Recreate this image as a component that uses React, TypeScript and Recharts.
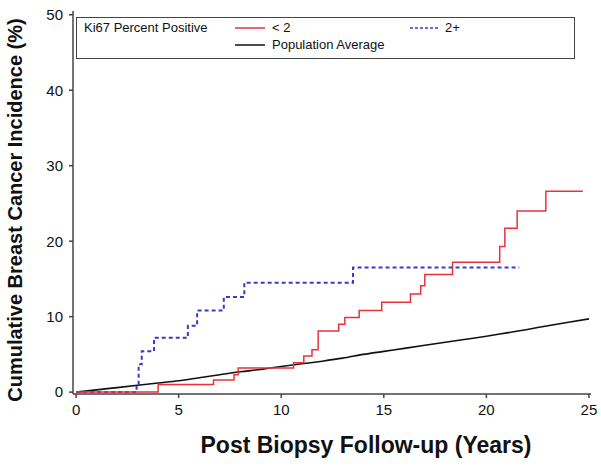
import { Legend, Line, LineChart, XAxis, YAxis } from 'recharts';

// cumulative incidence (%) by follow-up year
const lowTimes = [0, 4.0, 6.7, 7.7, 7.9, 10.6, 11.1, 11.5, 11.8, 12.8, 13.1, 13.8, 14.9, 16.3, 16.8, 17.0, 18.35, 20.65, 20.9, 21.5, 22.9, 24.7];
const lowValues = [0, 1.0, 1.6, 2.3, 3.2, 3.9, 4.8, 5.6, 8.1, 9.0, 9.9, 10.8, 11.9, 13.0, 14.1, 15.6, 17.2, 19.3, 21.7, 24.0, 26.6, 26.6];

const highTimes = [0, 2.95, 3.05, 3.2, 3.8, 5.45, 5.9, 7.2, 8.2, 13.5, 21.6];
const highValues = [0, 1.0, 3.7, 5.4, 7.2, 8.8, 10.8, 12.6, 14.5, 16.5, 16.5];

const popYears = [0, 1, 2, 3, 4, 5, 6, 7, 8, 9, 10, 11, 12, 13, 14, 15, 16, 17, 18, 19, 20, 21, 22, 23, 24, 25];
const popValues = [0, 0.3, 0.6, 0.9, 1.2, 1.5, 1.9, 2.3, 2.7, 3.0, 3.4, 3.75, 4.1, 4.5, 5.0, 5.4, 5.8, 6.2, 6.6, 7.0, 7.4, 7.85, 8.3, 8.8, 9.25, 9.7];

const xTicks = [0, 5, 10, 15, 20, 25];
const yTicks = [0, 10, 20, 30, 40, 50];

const toRows = (xs: number[], ys: number[]) => xs.map((t, i) => ({ t, v: ys[i] }));

const lowData = toRows(lowTimes, lowValues);
const highData = toRows(highTimes, highValues);
const popData = toRows(popYears, popValues);

const FONT = '"Liberation Sans", Arial, sans-serif';
const RED = '#e8333d';
const BLUE = '#3a3ac8';
const FRAME = '#444';

// frame sits a couple of pixels outside the 0..25 / 0..50 range, as in the SAS plot
const X_DOMAIN = [-0.15, 25.1];
const Y_DOMAIN = [-0.25, 50.5];

function LegendBox() {
  const txt = { position: 'absolute' as const, fontSize: 13, color: '#111', lineHeight: '14px' };
  const swatch = (top: number, left: number, color: string, dashed = false) => (
    <svg style={{ position: 'absolute', top, left }} width={30} height={4}>
      <line x1={0} y1={2} x2={30} y2={2} stroke={color} strokeWidth={1.5} strokeDasharray={dashed ? '3 2' : undefined} />
    </svg>
  );
  return (
    <div style={{ position: 'relative', width: 499, height: 42, border: `1.5px solid ${FRAME}`, boxSizing: 'border-box', fontFamily: FONT }}>
      <div style={{ ...txt, left: 7, top: 3 }}>Ki67 Percent Positive</div>
      {swatch(8, 158, RED)}
      <div style={{ ...txt, left: 195, top: 3 }}>{'< 2'}</div>
      {swatch(8, 333, BLUE, true)}
      <div style={{ ...txt, left: 368, top: 3 }}>2+</div>
      {swatch(25, 158, '#111')}
      <div style={{ ...txt, left: 195, top: 20 }}>Population Average</div>
    </div>
  );
}

function YTitle() {
  return (
    <text
      x={15}
      y={210}
      transform="rotate(-90, 15, 210)"
      textAnchor="middle"
      dominantBaseline="central"
      style={{ fontSize: 20, fontWeight: 'bold', fill: '#111', fontFamily: FONT }}
    >
      Cumulative Breast Cancer Incidence (%)
    </text>
  );
}

function XTitle() {
  return (
    <text
      x={366}
      y={445}
      textAnchor="middle"
      dominantBaseline="central"
      style={{ fontSize: 23, fontWeight: 'bold', fill: '#111', fontFamily: FONT }}
    >
      Post Biopsy Follow-up (Years)
    </text>
  );
}

export default function App() {
  const tick = { fontSize: 15, fill: '#111', fontFamily: FONT };
  return (
    <div style={{ position: 'absolute', left: 0, top: 0, width: 601, height: 471, background: '#fff' }}>
      <LineChart width={601} height={471} margin={{ top: 11, right: 10, left: 0, bottom: 0 }}>
        <XAxis
          dataKey="t"
          type="number"
          domain={X_DOMAIN}
          ticks={xTicks}
          allowDataOverflow
          height={77}
          tick={tick}
          tickSize={4}
          tickMargin={6}
          stroke={FRAME}
          strokeWidth={1.5}
          label={<XTitle />}
        />
        <XAxis xAxisId="top" orientation="top" dataKey="t" type="number" domain={X_DOMAIN} height={0} tick={false} tickLine={false} stroke={FRAME} strokeWidth={1.5} />
        <YAxis
          type="number"
          domain={Y_DOMAIN}
          ticks={yTicks}
          allowDataOverflow
          width={73}
          tick={tick}
          tickSize={4}
          tickMargin={6}
          stroke={FRAME}
          strokeWidth={1.5}
          label={<YTitle />}
        />
        <YAxis yAxisId="right" orientation="right" domain={Y_DOMAIN} width={0} tick={false} tickLine={false} stroke={FRAME} strokeWidth={1.5} />
        <Legend
          layout="vertical"
          align="center"
          verticalAlign="middle"
          content={() => <LegendBox />}
          wrapperStyle={{ position: 'absolute', left: 76, top: 17, width: 499, height: 42 }}
        />
        <Line data={popData} dataKey="v" type="monotone" stroke="#111" strokeWidth={1.6} dot={false} isAnimationActive={false} />
        <Line data={highData} dataKey="v" type="stepAfter" stroke={BLUE} strokeWidth={2} strokeDasharray="4 3" dot={false} isAnimationActive={false} />
        <Line data={lowData} dataKey="v" type="stepAfter" stroke={RED} strokeWidth={1.5} dot={false} isAnimationActive={false} />
      </LineChart>
    </div>
  );
}
